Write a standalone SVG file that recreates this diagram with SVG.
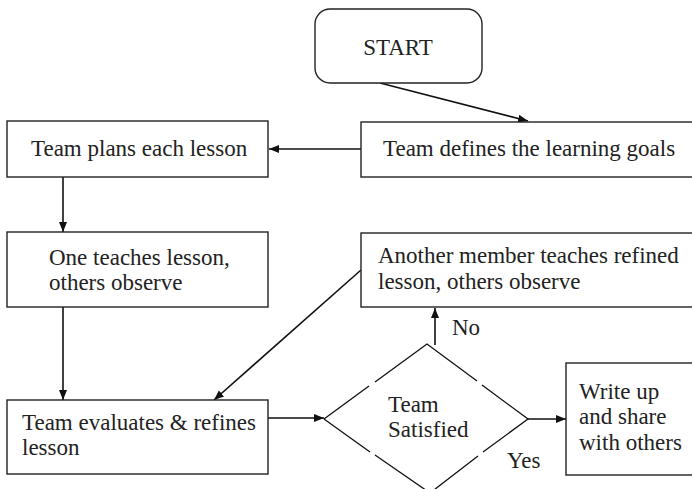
<svg xmlns="http://www.w3.org/2000/svg" width="692" height="489" viewBox="0 0 692 489">
<style>
.box{fill:#fff;stroke:#222;stroke-width:1.4}
.ln{fill:none;stroke:#111;stroke-width:1.6}
.dm{fill:none;stroke:#111;stroke-width:1.3}
text{font-family:"Liberation Serif","Times New Roman",serif;font-size:23px;fill:#222}
</style>
<defs>
<marker id="ah" viewBox="0 0 10 10" refX="10" refY="5" markerWidth="10" markerHeight="10" markerUnits="userSpaceOnUse" orient="auto">
<path d="M0,1 L10,5 L0,9 Z" fill="#111"/>
</marker>
</defs>
<g id="connectors">
<line class="ln" x1="380" y1="83" x2="528" y2="121" marker-end="url(#ah)"/>
<line class="ln" x1="361" y1="149" x2="269" y2="149" marker-end="url(#ah)"/>
<line class="ln" x1="63" y1="177" x2="63" y2="232" marker-end="url(#ah)"/>
<line class="ln" x1="63" y1="307" x2="63" y2="400" marker-end="url(#ah)"/>
<line class="ln" x1="361" y1="270" x2="214" y2="400" marker-end="url(#ah)"/>
<line class="ln" x1="435" y1="345" x2="435" y2="308" marker-end="url(#ah)"/>
<line class="ln" x1="268" y1="418" x2="324" y2="418" marker-end="url(#ah)"/>
<line class="ln" x1="528" y1="419" x2="566" y2="419" marker-end="url(#ah)"/>
<text x="452" y="335">No</text>
<text x="507" y="468">Yes</text>
</g>
<g id="start">
<rect class="box" x="315" y="9" width="167" height="74" rx="15"/>
<text x="398" y="55" text-anchor="middle">START</text>
</g>
<g id="defines">
<rect class="box" x="361" y="122" width="345" height="55"/>
<text x="383" y="156">Team defines the learning goals</text>
</g>
<g id="plans">
<rect class="box" x="7" y="121" width="261" height="56"/>
<text x="31" y="156">Team plans each lesson</text>
</g>
<g id="teaches">
<rect class="box" x="7" y="232" width="261" height="75"/>
<text x="49" y="265">One teaches lesson,</text>
<text x="49" y="290">others observe</text>
</g>
<g id="evaluates">
<rect class="box" x="7" y="400" width="261" height="74"/>
<text x="22" y="430">Team evaluates &amp; refines</text>
<text x="22" y="455">lesson</text>
</g>
<g id="another">
<rect class="box" x="361" y="233" width="345" height="74"/>
<text x="378" y="263">Another member teaches refined</text>
<text x="378" y="289">lesson, others observe</text>
</g>
<g id="satisfied">
<path class="dm" d="M324,419 L369,386 M375,382 L427,344 L477,381 M482,385 L528,419 L483,452 M478,456 L430,493 L375,455 M370,452 L324,419"/>
<text x="388" y="412">Team</text>
<text x="388" y="437">Satisfied</text>
</g>
<g id="writeup">
<rect class="box" x="566" y="363" width="140" height="112"/>
<text x="579" y="399">Write up</text>
<text x="579" y="424">and share</text>
<text x="579" y="450">with others</text>
</g>
</svg>
